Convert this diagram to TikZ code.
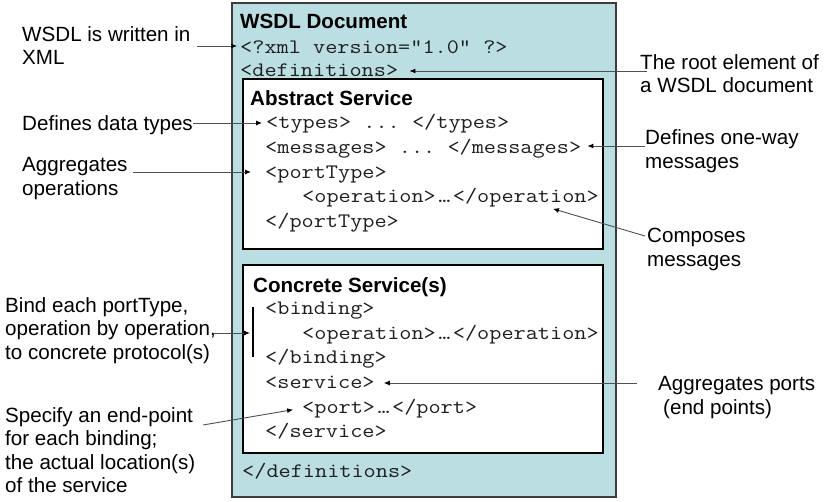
\documentclass[tikz,border=0pt]{standalone}
\usepackage{fontspec}
\setmainfont{Liberation Sans}
\usetikzlibrary{arrows.meta}
\frenchspacing
\definecolor{wsdlfill}{RGB}{186,222,225}
\definecolor{connc}{RGB}{80,80,80}
\definecolor{outerc}{RGB}{60,60,60}
\definecolor{codec}{RGB}{30,30,30}
\newcommand{\codetxt}[1]{\scalebox{1.1456}[1]{#1}}
\newcommand{\codedots}{\makebox[17pt]{\codetxt{…}}}
\tikzset{
  lab/.style={font=\fontsize{20.6}{23.5}\selectfont, inner sep=0pt, anchor=base west, align=left},
  code/.style={font=\fontsize{20.6}{24}\selectfont\ttfamily, text=codec, inner sep=0pt, anchor=base west},
  head/.style={font=\fontsize{20.6}{24}\selectfont\bfseries, inner sep=0pt, anchor=base west},
  outerbox/.style={draw=outerc, line width=1.3pt, fill=wsdlfill, inner sep=0pt, outer sep=0pt, anchor=north west},
  innerbox/.style={draw=black, line width=1.1pt, fill=white, inner sep=0pt, outer sep=0pt, anchor=north west},
  conn/.style={draw=connc, line width=0.9pt, -{Latex[length=6pt,width=5pt,color=black]}},
}
\begin{document}
\begin{tikzpicture}[x=1pt,y=-1pt]
\useasboundingbox (0,0) rectangle (832,501);
% boxes
\node[outerbox, minimum width=384pt, minimum height=494pt] (outer) at (232,3) {};
\node[innerbox, minimum width=360pt, minimum height=170pt] (abstract) at (243,79) {};
\node[innerbox, minimum width=360pt, minimum height=188pt] (concrete) at (243,265) {};
% box texts
\node[head] (title) at (240,28) {WSDL Document};
\node[code] (xml) at (240,53) {\codetxt{<?xml version="1.0" ?>}};
\node[code] (defs) at (240,76) {\codetxt{<definitions>}};
\node[head] (abs) at (250,105) {Abstract Service};
\node[code] (types) at (266,128) {\codetxt{<types> ... </types>}};
\node[code] (msgs) at (265,153) {\codetxt{<messages> ... </messages>}};
\node[code] (pt) at (265,178) {\codetxt{<portType>}};
\node[code] (op1) at (302,202) {\codetxt{<operation>}\codedots\codetxt{</operation>}};
\node[code] (ptc) at (265,227) {\codetxt{</portType>}};
\node[head] (con) at (253,292) {Concrete Service(s)};
\node[code] (bind) at (265,314) {\codetxt{<binding>}};
\node[code] (op2) at (302,339) {\codetxt{<operation>}\codedots\codetxt{</operation>}};
\node[code] (bindc) at (265,363) {\codetxt{</binding>}};
\node[code] (serv) at (265,388) {\codetxt{<service>}};
\node[code] (port) at (302,413) {\codetxt{<port>}\codedots\codetxt{</port>}};
\node[code] (servc) at (265,437) {\codetxt{</service>}};
\node[code] (defsc) at (242,477) {\codetxt{</definitions>}};
% labels (anchor = baseline of last line)
\node[lab] (l1) at (22,64.5) {WSDL is written in\\XML};
\node[lab] (l2) at (22,130) {Defines data types};
\node[lab] (l3) at (22,195) {Aggregates\\operations};
\node[lab] (l4) at (5,359) {Bind each portType,\\operation by operation,\\to concrete protocol(s)};
\node[lab] (l5) at (5,492.5) {Specify an end-point\\for each binding;\\the actual location(s)\\of the service};
\node[lab] (r1) at (640,92.5) {The root element of\\a WSDL document};
\node[lab] (r2) at (645,168) {Defines one-way\\messages};
\node[lab] (r3) at (647,266) {Composes\\messages};
\node[lab] (r4) at (658,414) {Aggregates ports\\\hspace*{5pt}(end points)};
% connector start points
\coordinate (c1) at (197,46);
\coordinate (c2) at (193,123);
\coordinate (c3) at (133,172);
\coordinate (c4) at (647,71);
\coordinate (c5) at (645,146);
\coordinate (c6) at (645,236);
\coordinate (c7) at (213,333);
\coordinate (c8) at (203,425);
\coordinate (c9) at (637,383);
\coordinate (bar1) at (253,307);
\coordinate (bar2) at (253,357);
% connectors
\draw[conn, shorten >=3pt] (c1) -- (c1 -| xml.west);
\draw[conn, shorten >=4pt] (c2) -- (c2 -| types.west);
\draw[conn, shorten >=14pt] (c3) -- (c3 -| pt.west);
\draw[conn] (c4) -- ([xshift=11pt]defs.east |- c4);
\draw[conn] (c5) -- ([xshift=6pt]msgs.east |- c5);
\draw[conn] (c6) -- ([xshift=-46pt,yshift=-2pt]op1.south east);
\draw[black, line width=1.1pt] (bar1) -- (bar2);
\draw[conn] (c7) -- ([xshift=-3pt]c7 -| bar1);
\draw[conn, shorten >=9pt] (c8) -- (port.west);
\draw[conn] (c9) -- ([xshift=9pt]serv.east |- c9);
\end{tikzpicture}
\end{document}
